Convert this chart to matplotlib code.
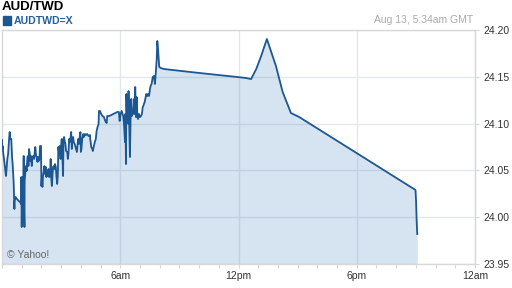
import matplotlib
matplotlib.use("Agg")
import matplotlib.pyplot as plt
from matplotlib.patches import Rectangle
from matplotlib.ticker import MultipleLocator

plt.rcParams["font.family"] = ["Liberation Sans", "DejaVu Sans"]

# AUD/TWD intraday quotes, hours since midnight GMT
hours = [
    0.00, 0.01, 0.03, 0.07, 0.12, 0.17, 0.20, 0.24, 0.27, 0.31, 0.36, 0.39,
    0.42, 0.47, 0.51, 0.54, 0.59, 0.63, 0.64, 0.69, 0.76, 0.85, 0.92, 0.97,
    0.98, 1.00, 1.03, 1.07, 1.08, 1.10, 1.12, 1.14, 1.15, 1.19, 1.22, 1.25,
    1.29, 1.32, 1.34, 1.37, 1.41, 1.44, 1.47, 1.51, 1.54, 1.59, 1.63, 1.66,
    1.69, 1.73, 1.76, 1.80, 1.83, 1.86, 1.90, 1.93, 1.98, 2.00, 2.03, 2.05,
    2.08, 2.12, 2.15, 2.19, 2.22, 2.25, 2.29, 2.32, 2.36, 2.39, 2.44, 2.47,
    2.49, 2.53, 2.56, 2.59, 2.63, 2.66, 2.69, 2.73, 2.76, 2.80, 2.83, 2.86,
    2.90, 2.93, 2.97, 3.00, 3.03, 3.07, 3.10, 3.12, 3.15, 3.19, 3.22, 3.25,
    3.31, 3.34, 3.37, 3.41, 3.44, 3.47, 3.51, 3.54, 3.58, 3.61, 3.64, 3.69,
    3.73, 3.76, 3.80, 3.83, 3.86, 3.90, 3.93, 3.98, 4.00, 4.03, 4.07, 4.12,
    4.15, 4.21, 4.26, 4.32, 4.39, 4.46, 4.49, 4.53, 4.58, 4.61, 4.66, 4.71,
    4.76, 4.80, 4.85, 4.90, 4.92, 4.97, 5.03, 5.10, 5.17, 5.24, 5.31, 5.34,
    5.44, 5.54, 5.65, 5.75, 5.85, 5.93, 5.97, 6.02, 6.07, 6.12, 6.15, 6.19,
    6.24, 6.26, 6.29, 6.31, 6.34, 6.37, 6.41, 6.42, 6.46, 6.49, 6.53, 6.56,
    6.59, 6.63, 6.66, 6.70, 6.73, 6.76, 6.80, 6.83, 6.87, 6.90, 6.95, 7.00,
    7.05, 7.10, 7.14, 7.17, 7.20, 7.24, 7.29, 7.32, 7.37, 7.41, 7.46, 7.51,
    7.54, 7.59, 7.65, 7.71, 7.76, 7.81, 7.85, 7.88, 7.92, 7.95, 7.98, 8.05,
    8.22, 8.64, 9.12, 9.58, 10.00, 11.00, 11.93, 12.39, 12.64, 12.90, 13.15,
    13.44, 13.90, 14.24, 14.66, 15.08, 20.98, 21.01, 21.04, 21.07,
]
rates = [
    24.0825, 24.0729, 24.0761, 24.0675, 24.0590, 24.0494, 24.0440, 24.0536,
    24.0622, 24.0675, 24.0835, 24.0910, 24.0835, 24.0835, 24.0643, 24.0568,
    24.0376, 24.0088, 24.0173, 24.0216, 24.0194, 24.0173, 24.0162, 24.0141,
    24.0429, 23.9895, 24.0387, 24.0429, 24.0280, 24.0654, 24.0066, 23.9895,
    24.0387, 24.0494, 24.0547, 24.0494, 24.0643, 24.0654, 24.0547, 24.0729,
    24.0675, 24.0600, 24.0654, 24.0547, 24.0643, 24.0654, 24.0622, 24.0697,
    24.0750, 24.0654, 24.0643, 24.0590, 24.0643, 24.0600, 24.0622, 24.0761,
    24.0761, 24.0333, 24.0440, 24.0323, 24.0440, 24.0494, 24.0547, 24.0461,
    24.0536, 24.0429, 24.0494, 24.0440, 24.0515, 24.0429, 24.0440, 24.0622,
    24.0440, 24.0333, 24.0440, 24.0536, 24.0547, 24.0515, 24.0568, 24.0536,
    24.0440, 24.0355, 24.0440, 24.0750, 24.0675, 24.0761, 24.0622, 24.0761,
    24.0835, 24.0622, 24.0440, 24.0835, 24.0857, 24.0803, 24.0782, 24.0707,
    24.0697, 24.0622, 24.0675, 24.0835, 24.0803, 24.0835, 24.0910, 24.0729,
    24.0835, 24.0857, 24.0803, 24.0782, 24.0750, 24.0729, 24.0697, 24.0761,
    24.0835, 24.0782, 24.0835, 24.0910, 24.0697, 24.0729, 24.0835, 24.0889,
    24.0857, 24.0889, 24.0878, 24.0889, 24.0867, 24.0878, 24.0814, 24.0750,
    24.0729, 24.0707, 24.0761, 24.0803, 24.0835, 24.0921, 24.0964, 24.0996,
    24.1135, 24.1135, 24.1103, 24.1081, 24.1070, 24.1028, 24.1006, 24.1081,
    24.1081, 24.1092, 24.1103, 24.1113, 24.1124, 24.1124, 24.1028, 24.1103,
    24.1135, 24.1103, 24.1081, 24.0996, 24.0803, 24.1103, 24.0568, 24.1316,
    24.1070, 24.1263, 24.0996, 24.1348, 24.0964, 24.0643, 24.1103, 24.1263,
    24.1081, 24.1135, 24.1103, 24.1263, 24.1103, 24.1391, 24.1070, 24.1284,
    24.1081, 24.1049, 24.1103, 24.1070, 24.1081, 24.1103, 24.1177, 24.1188,
    24.1209, 24.1231, 24.1284, 24.1316, 24.1295, 24.1316, 24.1295, 24.1370,
    24.1402, 24.1423, 24.1498, 24.1509, 24.1423, 24.1562, 24.1690, 24.1882,
    24.1797, 24.1690, 24.1605, 24.1594, 24.1583, 24.1573, 24.1562, 24.1551,
    24.1541, 24.1519, 24.1498, 24.1487, 24.1476, 24.1583, 24.1722, 24.1904,
    24.1615, 24.1338, 24.1113, 24.1070, 24.0291, 24.0173, 23.9959, 23.9820,
]

y_ticks = [23.95, 24.00, 24.05, 24.10, 24.15, 24.20]
x_ticks = [6, 12, 18, 24]
x_labels = ["6am", "12pm", "6pm", "12am"]

line_col = "#1c5792"
grid_col = "#e3e7ee"
frame_col = "#d8d8d8"

W, H = 512, 288
fig = plt.figure(figsize=(W / 100, H / 100), dpi=100)
ax = fig.add_axes([2 / W, 24 / H, 473 / W, 234 / H])

ax.fill_between(hours, rates, 23.95, color="#1e6eb4", alpha=0.18, lw=0, zorder=2)
ax.plot(hours, rates, color=line_col, lw=1.3, zorder=3)

ax.set_xlim(0, 24)
ax.set_ylim(23.95, 24.20)
ax.set_xticks(x_ticks)
ax.set_xticklabels(x_labels)
ax.xaxis.set_minor_locator(MultipleLocator(1))
ax.set_yticks(y_ticks)
ax.set_yticklabels([f"{v:.2f}" for v in y_ticks])
ax.yaxis.tick_right()

ax.grid(True, which="major", color=grid_col, lw=1, zorder=1)
ax.set_axisbelow(True)
for s in ax.spines.values():
    s.set_color(frame_col)
    s.set_linewidth(1)

ax.tick_params(axis="both", which="both", colors=frame_col, labelcolor="#333333",
               labelsize=7.5, length=3, width=0.8)
ax.tick_params(axis="x", pad=2)
ax.tick_params(axis="y", pad=3)

# header
fig.text(2 / W, 1 - 7 / H, "AUD/TWD", fontsize=9.5, fontweight="bold",
         color="#000000", va="center", ha="left")
fig.patches.append(Rectangle((2.5 / W, 1 - 24.5 / H), 8 / W, 8 / H,
                             transform=fig.transFigure, color=line_col))
fig.text(13.5 / W, 1 - 20.5 / H, "AUDTWD=X", fontsize=7.6, fontweight="bold",
         color="#22609e", va="center", ha="left")
fig.text(473 / W, 1 - 20 / H, "Aug 13, 5:34am GMT", fontsize=7.5,
         color="#aaaaaa", va="center", ha="right")
fig.text(7 / W, 1 - 255.5 / H, "\u00a9 Yahoo!", fontsize=7.5,
         color="#666666", va="center", ha="left")

fig.savefig("out.png", dpi=100)
